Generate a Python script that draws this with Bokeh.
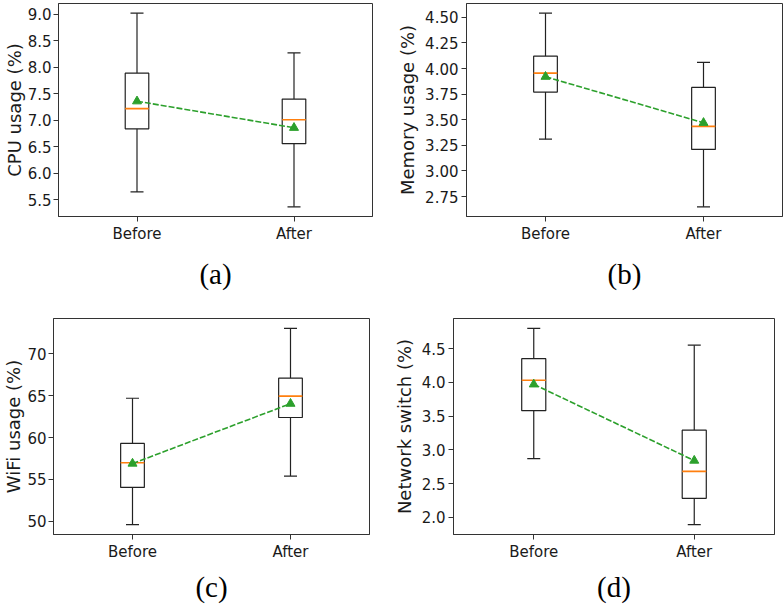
from bokeh.plotting import figure
from bokeh.layouts import column, row
from bokeh.models import Range1d, FixedTicker, PrintfTickFormatter, Title
from bokeh.embed import file_html
from bokeh.resources import INLINE

categories = ["Before", "After"]

# (a) CPU usage
cpu_whislo = [5.65, 5.37]
cpu_q1 = [6.84, 6.56]
cpu_med = [7.22, 7.01]
cpu_q3 = [7.89, 7.40]
cpu_whishi = [9.02, 8.27]
cpu_mean = [7.36, 6.86]
cpu_ticks = [5.5, 6.0, 6.5, 7.0, 7.5, 8.0, 8.5, 9.0]

# (b) Memory usage
mem_whislo = [3.31, 2.65]
mem_q1 = [3.77, 3.21]
mem_med = [3.955, 3.435]
mem_q3 = [4.12, 3.815]
mem_whishi = [4.54, 4.06]
mem_mean = [3.92, 3.47]
mem_ticks = [2.75, 3.00, 3.25, 3.50, 3.75, 4.00, 4.25, 4.50]

# (c) WiFi usage
wifi_whislo = [49.6, 55.4]
wifi_q1 = [54.05, 62.4]
wifi_med = [57.0, 64.95]
wifi_q3 = [59.3, 67.1]
wifi_whishi = [64.7, 73.05]
wifi_mean = [56.9, 64.05]
wifi_ticks = [50, 55, 60, 65, 70]

# (d) Network switch
net_whislo = [2.87, 1.89]
net_q1 = [3.58, 2.28]
net_med = [4.03, 2.68]
net_q3 = [4.35, 3.29]
net_whishi = [4.80, 4.55]
net_mean = [3.97, 2.84]
net_ticks = [2.0, 2.5, 3.0, 3.5, 4.0, 4.5]

BOX_W = 0.15
CAP_PX = 13
LINE_C = "#222222"


def panel(width, height, borders, ylabel, caption, cap_pad,
          whislo, q1, med, q3, whishi, mean, ticks, fmt,
          label_standoff=4, tick_standoff=3):
    lo, hi = min(whislo), max(whishi)
    pad = 0.05 * (hi - lo)
    left, right, top, bottom = borders
    p = figure(width=width, height=height, output_backend="svg",
               toolbar_location=None, x_range=Range1d(0.5, 2.5),
               y_range=Range1d(lo - pad, hi + pad),
               min_border_left=left, min_border_right=right,
               min_border_top=top, min_border_bottom=bottom)
    p.xgrid.visible = False
    p.ygrid.visible = False
    p.outline_line_color = "#333333"
    p.outline_line_width = 1
    p.background_fill_color = "white"
    p.border_fill_color = "white"

    pos = [i + 1 for i in range(len(categories))]

    for ax in (p.xaxis[0], p.yaxis[0]):
        ax.major_tick_out = 5
        ax.major_tick_in = 0
        ax.minor_tick_line_color = None
        ax.axis_line_color = "#333333"
        ax.major_tick_line_color = "#333333"
        ax.major_label_text_font = "DejaVu Sans"
        ax.major_label_text_font_size = "15px"
        ax.major_label_text_color = "#1a1a1a"
        ax.major_label_standoff = tick_standoff
    p.xaxis.ticker = FixedTicker(ticks=pos)
    p.xaxis.major_label_standoff = 3
    p.xaxis.major_label_overrides = {k: c for k, c in zip(pos, categories)}
    p.yaxis.ticker = FixedTicker(ticks=ticks)
    p.yaxis.formatter = PrintfTickFormatter(format=fmt)
    p.yaxis.axis_label = ylabel
    p.yaxis.axis_label_text_font = "DejaVu Sans"
    p.yaxis.axis_label_text_font_size = "18px"
    p.yaxis.axis_label_text_font_style = "normal"
    p.yaxis.axis_label_text_color = "#1a1a1a"
    p.yaxis.axis_label_standoff = label_standoff

    # whiskers
    p.segment(x0=pos, y0=q3, x1=pos, y1=whishi, line_color=LINE_C, line_width=1.2)
    p.segment(x0=pos, y0=q1, x1=pos, y1=whislo, line_color=LINE_C, line_width=1.2)
    p.scatter(x=pos, y=whishi, marker="dash", size=CAP_PX, line_color=LINE_C, line_width=1.2)
    p.scatter(x=pos, y=whislo, marker="dash", size=CAP_PX, line_color=LINE_C, line_width=1.2)
    # boxes
    p.vbar(x=pos, top=q3, bottom=q1, width=BOX_W, fill_color="white",
           line_color=LINE_C, line_width=1.2)
    # medians
    p.segment(x0=[x - BOX_W / 2 for x in pos], y0=med,
              x1=[x + BOX_W / 2 for x in pos], y1=med,
              line_color="#ff7f0e", line_width=1.6)
    # mean trend
    p.line(x=pos, y=mean, line_color="#2ca02c", line_width=1.6, line_dash="6 2")
    p.scatter(x=pos, y=mean, marker="triangle", size=9,
              fill_color="#2ca02c", line_color="#2ca02c")

    t = Title(text=caption, align="center", text_font="Liberation Serif",
              text_font_size="29px", text_font_style="normal",
              text_color="black", padding=cap_pad)
    p.add_layout(t, "below")
    return p


pa = panel(390, 300, (58, 18, 3, 84), "CPU usage (%)", "(a)", 5,
           cpu_whislo, cpu_q1, cpu_med, cpu_q3, cpu_whishi, cpu_mean,
           cpu_ticks, "%.1f", label_standoff=0, tick_standoff=2)
pb = panel(393, 300, (76, 1, 1, 84), "Memory usage (%)", "(b)", 5,
           mem_whislo, mem_q1, mem_med, mem_q3, mem_whishi, mem_mean,
           mem_ticks, "%.2f")
pc = panel(390, 308, (51, 21, 18, 73), "WiFi usage (%)", "(c)", 0,
           wifi_whislo, wifi_q1, wifi_med, wifi_q3, wifi_whishi, wifi_mean,
           wifi_ticks, "%d", label_standoff=0, tick_standoff=2)
pd = panel(393, 308, (63, 9, 16, 74), "Network switch (%)", "(d)", 0,
           net_whislo, net_q1, net_med, net_q3, net_whishi, net_mean,
           net_ticks, "%.1f")

layout = column(row(pa, pb), row(pc, pd))

open("out.html", "w").write(file_html(layout, INLINE))
